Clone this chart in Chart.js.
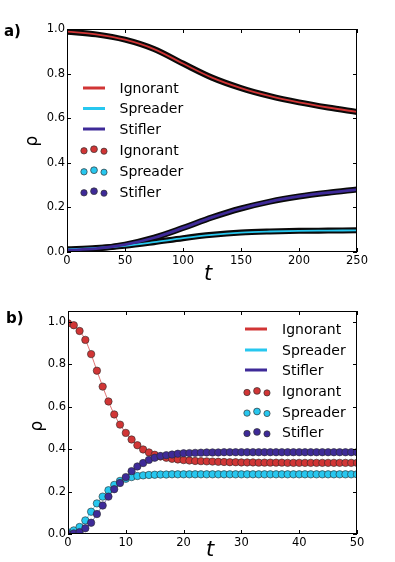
<!DOCTYPE html>
<html><head><meta charset="utf-8">
<script src="https://cdn.jsdelivr.net/npm/chart.js@4.4.0/dist/chart.umd.min.js"></script>
<style>
html,body{margin:0;padding:0;background:#fff;}
#wrap{position:relative;width:395px;height:562px;overflow:hidden;}
#ca{position:absolute;left:0;top:0;}
#cb{position:absolute;left:0;top:290px;}
</style></head><body>
<div id="wrap"><canvas id="ca" width="395" height="290"></canvas><canvas id="cb" width="395" height="272"></canvas></div>
<script>
// ---------- data ----------
const seriesNames = ['Ignorant', 'Spreader', 'Stifler'];

// panel a)
const tA = [0, 25, 50, 75, 100, 125, 150, 175, 200, 225, 250];
const ignorantA = [0.988, 0.976, 0.952, 0.910, 0.845, 0.782, 0.735, 0.699, 0.671, 0.648, 0.628];
const spreaderA = [0.012, 0.018, 0.028, 0.044, 0.062, 0.077, 0.087, 0.092, 0.095, 0.096, 0.097];
const stiflerA  = [0.008, 0.015, 0.033, 0.064, 0.108, 0.155, 0.195, 0.226, 0.249, 0.266, 0.280];
const xTicksA = [0, 50, 100, 150, 200, 250];

// panel b)
const tB = [0,1,2,3,4,5,6,7,8,9,10,11,12,13,14,15,16,17,18,19,20,21,22,23,24,25,26,27,28,29,30,31,32,33,34,35,36,37,38,39,40,41,42,43,44,45,46,47,48,49,50];
const ignorantB = [0.992,0.983,0.956,0.914,0.847,0.769,0.694,0.624,0.563,0.515,0.476,0.445,0.418,0.398,0.384,0.373,0.365,0.359,0.354,0.351,0.348,0.346,0.344,0.343,0.342,0.341,0.340,0.339,0.338,0.338,0.337,0.337,0.337,0.336,0.336,0.336,0.336,0.336,0.335,0.335,0.335,0.335,0.335,0.335,0.335,0.335,0.335,0.335,0.335,0.335,0.335];
const spreaderB = [0.008,0.017,0.033,0.064,0.105,0.144,0.176,0.206,0.231,0.250,0.260,0.268,0.273,0.276,0.278,0.279,0.280,0.280,0.281,0.281,0.281,0.281,0.281,0.281,0.281,0.281,0.281,0.281,0.281,0.281,0.281,0.281,0.281,0.281,0.281,0.281,0.281,0.281,0.281,0.281,0.281,0.281,0.281,0.281,0.281,0.281,0.281,0.281,0.281,0.281,0.281];
const stiflerB  = [0.000,0.003,0.009,0.027,0.053,0.094,0.134,0.176,0.211,0.240,0.268,0.296,0.318,0.334,0.349,0.359,0.367,0.371,0.374,0.378,0.380,0.381,0.382,0.383,0.384,0.384,0.384,0.385,0.385,0.385,0.385,0.385,0.385,0.385,0.385,0.385,0.385,0.385,0.385,0.385,0.385,0.385,0.385,0.385,0.385,0.385,0.385,0.385,0.385,0.385,0.385];
const xTicksB = [0, 10, 20, 30, 40, 50];

const yTicks = [0.0, 0.2, 0.4, 0.6, 0.8, 1.0];

// ---------- style ----------
const COLORS = ['#d13535', '#27c7ef', '#3e2a98'];
const FONT = 'DejaVu Sans';
Chart.defaults.font.family = FONT;
Chart.defaults.font.size = 11.5;
Chart.defaults.color = '#000';

const pts = (xs, ys) => xs.map((v, i) => ({x: v, y: ys[i]}));

const decor = {
  id: 'decor',
  afterDraw(chart, args, o) {
    const {ctx, chartArea: a, scales: {x, y}} = chart;
    ctx.save();
    ctx.strokeStyle = '#000';
    ctx.lineWidth = 1;
    ctx.strokeRect(a.left + 0.5, a.top + 0.5, a.right - a.left - 1, a.bottom - a.top - 1);
    ctx.beginPath();
    x.ticks.forEach(t => {
      const p = Math.round(x.getPixelForValue(t.value)) + 0.5;
      ctx.moveTo(p, a.bottom); ctx.lineTo(p, a.bottom - 4);
      ctx.moveTo(p, a.top); ctx.lineTo(p, a.top + 4);
    });
    y.ticks.forEach(t => {
      const p = Math.round(y.getPixelForValue(t.value)) + 0.5;
      ctx.moveTo(a.left, p); ctx.lineTo(a.left + 4, p);
      ctx.moveTo(a.right, p); ctx.lineTo(a.right - 4, p);
    });
    ctx.stroke();

    // legend
    const L = o.legend;
    ctx.font = '14px ' + FONT;
    ctx.textBaseline = 'middle';
    ctx.textAlign = 'left';
    for (let i = 0; i < 6; i++) {
      const yy = L.ys[i];
      const c = COLORS[i % 3];
      if (i < 3) {
        ctx.strokeStyle = c; ctx.lineWidth = 3;
        ctx.beginPath(); ctx.moveTo(L.x0, yy); ctx.lineTo(L.x1, yy); ctx.stroke();
      } else {
        const offs = [0.8, -0.8, 1.2];
        const rr = [3.2, 3.4, 3.1];
        for (let k = 0; k < 3; k++) {
          ctx.beginPath();
          ctx.arc(L.dots[k], yy + offs[k], rr[k], 0, Math.PI * 2);
          ctx.fillStyle = c; ctx.fill();
          ctx.strokeStyle = '#333'; ctx.lineWidth = 0.7; ctx.stroke();
        }
      }
      ctx.fillStyle = '#000';
      ctx.fillText(seriesNames[i % 3], L.tx, yy + 1);
    }

    // panel label
    ctx.font = 'bold 15px ' + FONT;
    ctx.fillText(o.panel, o.panelX, o.panelY);

    // axis titles
    ctx.font = 'italic 21px ' + FONT;
    ctx.textAlign = 'center';
    ctx.fillText('t', o.tX, o.tY);
    ctx.save();
    ctx.translate(o.rhoX, o.rhoY);
    ctx.rotate(-Math.PI / 2);
    ctx.font = '17px ' + FONT;
    ctx.fillText('\u03C1', 0, 0);
    ctx.restore();
    ctx.restore();
  }
};

function scalesFor(xTicks, xmax, ymax, ywidth, xheight) {
  return {
    x: {
      type: 'linear', min: 0, max: xmax,
      grid: {display: false, drawTicks: false, tickLength: 0}, border: {display: false},
      afterBuildTicks: s => { s.ticks = xTicks.map(v => ({value: v})); },
      afterFit: s => { s.height = xheight; },
      ticks: {autoSkip: false, maxRotation: 0, padding: 2, callback: v => String(v)}
    },
    y: {
      type: 'linear', min: 0, max: ymax,
      grid: {display: false, drawTicks: false, tickLength: 0}, border: {display: false},
      afterBuildTicks: s => { s.ticks = yTicks.map(v => ({value: v})); },
      afterFit: s => { s.width = ywidth; },
      ticks: {autoSkip: false, padding: 2, callback: v => Number(v).toFixed(1)}
    }
  };
}

// ---------- chart a ----------
const dsA = [];
const seriesA = [ignorantA, spreaderA, stiflerA];
seriesA.forEach((s, i) => {
  dsA.push({type: 'line', data: pts(tA, s), borderColor: COLORS[i], borderWidth: i === 2 ? 2.8 : 1.8,
    pointRadius: 0, cubicInterpolationMode: 'monotone', fill: false, order: 2 - i, clip: 0});
  dsA.push({type: 'line', data: pts(tA, s), borderColor: '#0a0a0a', borderWidth: 6,
    pointRadius: 0, cubicInterpolationMode: 'monotone', fill: false, order: 10 - i, clip: 0});
});
new Chart(document.getElementById('ca'), {
  type: 'line',
  data: {datasets: dsA},
  options: {
    responsive: false, animation: false, devicePixelRatio: 1,
    layout: {padding: {top: 29, right: 38, left: 0, bottom: 0}},
    plugins: {legend: {display: false}, tooltip: {enabled: false},
      decor: {legend: {x0: 83, x1: 105, tx: 119.5, ys: [88, 108.5, 129, 150, 171, 192], dots: [84, 94, 104]},
        panel: 'a)', panelX: 4, panelY: 32, tX: 208, tY: 275, rhoX: 33, rhoY: 141}}
    ,
    scales: scalesFor(xTicksA, 250, 1.0, 67, 38)
  },
  plugins: [decor]
});

// ---------- chart b ----------
const dsB = [];
const seriesB = [ignorantB, spreaderB, stiflerB];
seriesB.forEach((s, i) => {
  dsB.push({type: 'scatter', data: pts(tB, s), backgroundColor: COLORS[i], borderColor: '#2a2a2a', borderWidth: 0.6,
    pointRadius: 3.7, showLine: false, order: 2 - i, clip: 0});
  dsB.push({type: 'line', data: pts(tB, s), borderColor: COLORS[i] + 'b0', borderWidth: 1,
    pointRadius: 0, cubicInterpolationMode: 'monotone', fill: false, order: 10 - i, clip: 0});
});
new Chart(document.getElementById('cb'), {
  type: 'line',
  data: {datasets: dsB},
  options: {
    responsive: false, animation: false, devicePixelRatio: 1,
    layout: {padding: {top: 21, right: 38, left: 0, bottom: 0}},
    plugins: {legend: {display: false}, tooltip: {enabled: false},
      decor: {legend: {x0: 245, x1: 267, tx: 282, ys: [39, 60, 80, 101.7, 122.3, 142.7], dots: [247, 257, 267]},
        panel: 'b)', panelX: 6, panelY: 29, tX: 210, tY: 261, rhoX: 38, rhoY: 136}}
    ,
    scales: scalesFor(xTicksB, 50, 1.05, 68, 28)
  },
  plugins: [decor]
});
</script></body></html>
